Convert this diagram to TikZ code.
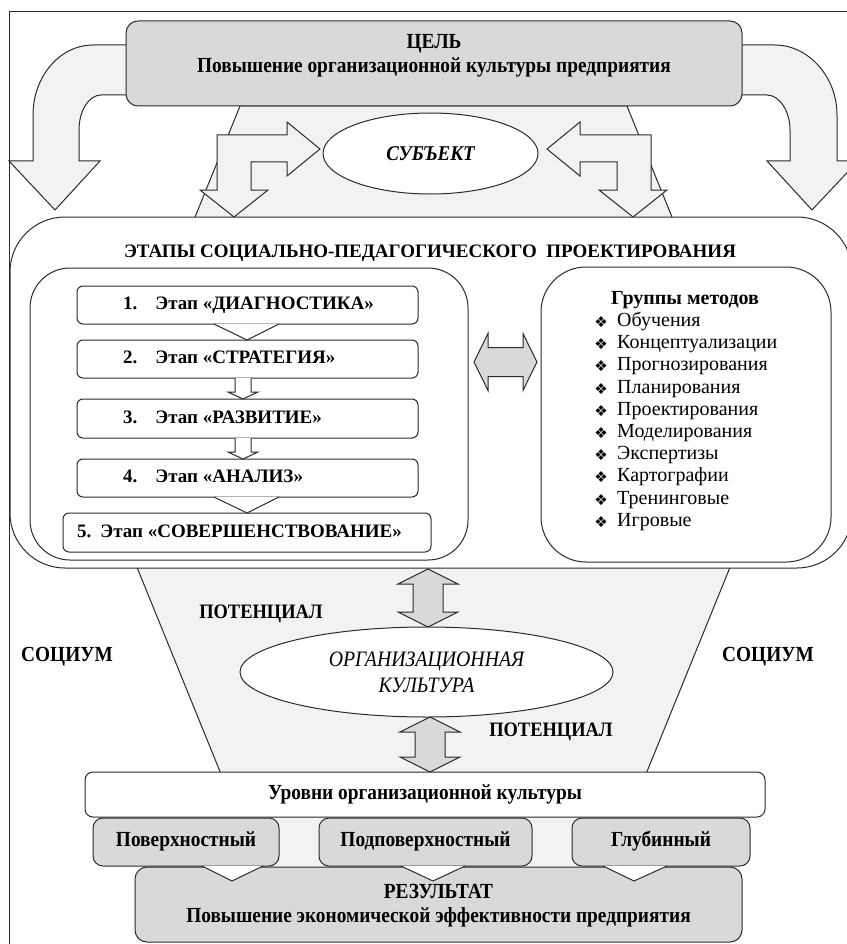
\documentclass[tikz,border=0pt]{standalone}
\usepackage{fontspec}
\setmainfont{Liberation Serif}
\newfontfamily\condfont[FakeStretch=0.9]{Liberation Serif}
\newfontfamily\symfont{DejaVu Sans}
\usetikzlibrary{shapes.geometric}
\definecolor{dgray}{HTML}{D9D9D9}
\definecolor{lgray}{HTML}{F2F2F2}
\definecolor{lineg}{HTML}{2B2B2B}
\tikzset{
  ln/.style={draw=lineg, line width=1pt, line join=miter},
  rbox/.style={ln, rectangle, inner sep=0pt, anchor=center},
  txt/.style={inner sep=0pt, font=\fontsize{19}{21}\selectfont\bfseries, text height=13pt, text depth=4pt},
  ctxt/.style={inner sep=0pt, font=\fontsize{21.5}{24}\selectfont\condfont\bfseries, text height=14pt, text depth=5pt},
  mtxt/.style={inner sep=0pt, font=\fontsize{20}{22}\selectfont, anchor=west, text height=13pt, text depth=4pt},
  bul/.style={inner sep=0pt, font=\fontsize{15}{16}\selectfont\symfont},
}
\begin{document}
\begin{tikzpicture}[x=1pt,y=-1pt]
\useasboundingbox (0,0) rectangle (846,944);
% frame
\draw[ln] (9,960) -- (9,12) -- (860,12);
% hourglass background
\filldraw[ln, fill=lgray] (240,106) -- (627,106) -- (772,464) -- (646,774) -- (221,774) -- (95,464) -- cycle;
% curved arrows
\filldraw[ln, fill=lgray] (130,45) -- (93,45) .. controls (59.9,45) and (33,76.4) .. (33,115) -- (33,161) -- (9,161) -- (55,210) -- (100,161) -- (79,161) -- (79,130) .. controls (79,110.7) and (88.9,95) .. (101,95) -- (130,95);
\filldraw[ln, fill=lgray] (738,45) -- (775,45) .. controls (808.1,45) and (837,76.4) .. (837,115) -- (837,161) -- (858,161) -- (812,210) -- (767,161) -- (790,161) -- (790,130) .. controls (790,110.7) and (779.1,95) .. (767,95) -- (738,95);
% goal box
\node[rbox, fill=dgray, rounded corners=12pt, minimum width=616pt, minimum height=85pt] (goal) at (434,63.5) {};
\node[ctxt] (goalT1) at (434,44) {ЦЕЛЬ};
\node[ctxt] (goalT2) at (434,68) {Повышение организационной культуры предприятия};
% bent arrows
\filldraw[ln, fill=lgray] (320,149) -- (287,122) -- (287,135) -- (217,135) -- (217,190) -- (200,190) -- (234,217) -- (268,190) -- (251,190) -- (251,162) -- (287,162) -- (287,176) -- cycle;
\filldraw[ln, fill=lgray] (547,149) -- (580,122) -- (580,135) -- (651,135) -- (651,190) -- (667,190) -- (633,217) -- (599,190) -- (617,190) -- (617,162) -- (580,162) -- (580,176) -- cycle;
% subject
\node[ln, ellipse, fill=white, minimum width=215pt, minimum height=81pt, inner sep=0pt] (subj) at (430.5,153.5) {};
\node[inner sep=0pt, font=\fontsize{21}{24}\selectfont\condfont\bfseries\itshape] (subjT) at (subj.center) {СУБЪЕКТ};
% stages box
\node[rbox, fill=white, rounded corners=55pt, minimum width=842pt, minimum height=351pt] (stages) at (431,392.5) {};
\node[txt] (stagesT) at (430,253) {ЭТАПЫ СОЦИАЛЬНО-ПЕДАГОГИЧЕСКОГО\ \ ПРОЕКТИРОВАНИЯ};
\node[rbox, fill=white, rounded corners=40pt, minimum width=438pt, minimum height=292pt] (leftbox) at (249,414) {};
% stage boxes
\node[rbox, fill=white, rounded corners=6pt, minimum width=341pt, minimum height=38pt] (s1) at (247.5,305) {};
\node[rbox, fill=white, rounded corners=6pt, minimum width=341pt, minimum height=38pt] (s2) at (247.5,359) {};
\node[rbox, fill=white, rounded corners=6pt, minimum width=341pt, minimum height=39pt] (s3) at (247.5,418.5) {};
\node[rbox, fill=white, rounded corners=6pt, minimum width=341pt, minimum height=38pt] (s4) at (247.5,478) {};
\node[rbox, fill=white, rounded corners=6pt, minimum width=368pt, minimum height=39pt] (s5) at (247,532.5) {};
\node[txt, anchor=west] (s1T) at (123,305) {1.\hspace{18pt}Этап «ДИАГНОСТИКА»};
\node[txt, anchor=west] (s2T) at (123,359) {2.\hspace{18pt}Этап «СТРАТЕГИЯ»};
\node[txt, anchor=west] (s3T) at (123,418.5) {3.\hspace{18pt}Этап «РАЗВИТИЕ»};
\node[txt, anchor=west] (s4T) at (123,478) {4.\hspace{18pt}Этап «АНАЛИЗ»};
\node[txt, anchor=west] (s5T) at (77,532.5) {5.\hspace{9pt}Этап «СОВЕРШЕНСТВОВАНИЕ»};
% connectors between stages
\filldraw[ln, fill=white] (214,324) -- (247,340) -- (279,324);
\filldraw[ln, fill=white] (235,378) -- (235,392) -- (228,392) -- (243,399) -- (258,392) -- (251,392) -- (251,378);
\filldraw[ln, fill=white] (235,438) -- (235,452) -- (228,452) -- (243,459) -- (258,452) -- (251,452) -- (251,438);
\filldraw[ln, fill=white] (214,497) -- (247,513) -- (279,497);
% horizontal double arrow
\filldraw[ln, fill=dgray] (474,362) -- (488,333.5) -- (488,347.5) -- (523,347.5) -- (523,333.5) -- (537,362) -- (523,390.5) -- (523,376.5) -- (488,376.5) -- (488,390.5) -- cycle;
% methods
\node[rbox, fill=white, rounded corners=45pt, minimum width=290pt, minimum height=295pt] (methods) at (686,414.5) {};
\node[txt, font=\fontsize{20}{22}\selectfont\bfseries] (methT) at (685,300) {Группы методов};
\foreach \t [count=\i from 0] in {Обучения,Концептуализации,Прогнозирования,Планирования,Проектирования,Моделирования,Экспертизы,Картографии,Тренинговые,Игровые}{
  \node[bul] (b\i) at (601,{322+22.2*\i}) {❖};
  \node[mtxt] (m\i) at (617,{322+22.2*\i}) {\t};
}
% vertical double arrows
\filldraw[ln, fill=dgray] (428,569) -- (458,584) -- (443,584) -- (443,612) -- (458,612) -- (428,627) -- (398,612) -- (413,612) -- (413,584) -- (398,584) -- cycle;
\filldraw[ln, fill=dgray] (430,717) -- (460,732) -- (445,732) -- (445,757) -- (460,757) -- (430,772) -- (400,757) -- (415,757) -- (415,732) -- (400,732) -- cycle;
% organisational culture
\node[ln, ellipse, fill=white, minimum width=373pt, minimum height=90pt, inner sep=0pt] (org) at (426.5,672) {};
\node[inner sep=0pt, font=\fontsize{22}{26}\selectfont\condfont\itshape, align=center] (orgT) at (org.center) {ОРГАНИЗАЦИОННАЯ\\КУЛЬТУРА};
\node[ctxt, font=\fontsize{20.5}{24}\selectfont\condfont\bfseries] (pot1) at (261,614) {ПОТЕНЦИАЛ};
\node[ctxt, font=\fontsize{20.5}{24}\selectfont\condfont\bfseries] (pot2) at (551,732) {ПОТЕНЦИАЛ};
\node[ctxt] (soc1) at (67,657) {СОЦИУМ};
\node[ctxt] (soc2) at (768,657) {СОЦИУМ};
% levels
\fill[lgray] (270,816) rectangle (580,869);
\node[rbox, fill=white, rounded corners=8pt, minimum width=680pt, minimum height=45pt] (levels) at (425,794.5) {};
\node[ctxt] (levelsT) at (levels.center) {Уровни организационной культуры};
\node[rbox, fill=dgray, rounded corners=12pt, minimum width=607pt, minimum height=75pt] (result) at (438.5,904.5) {};
\node[rbox, fill=dgray, rounded corners=10pt, minimum width=186pt, minimum height=48pt] (lv1) at (186,842) {};
\node[rbox, fill=dgray, rounded corners=10pt, minimum width=213pt, minimum height=48pt] (lv2) at (425.5,842) {};
\node[rbox, fill=dgray, rounded corners=10pt, minimum width=178pt, minimum height=48pt] (lv3) at (661,842) {};
\node[ctxt] (lv1T) at (lv1.center) {Поверхностный};
\node[ctxt] (lv2T) at (lv2.center) {Подповерхностный};
\node[ctxt] (lv3T) at (lv3.center) {Глубинный};
\filldraw[ln, fill=white] (202,866) -- (232,881) -- (263,866);
\filldraw[ln, fill=white] (401,866) -- (433,881) -- (465,866);
\filldraw[ln, fill=white] (603,866) -- (634,881) -- (667,866);
\node[ctxt] (resT1) at (438.5,894) {РЕЗУЛЬТАТ};
\node[ctxt] (resT2) at (438.5,918) {Повышение экономической эффективности предприятия};
\end{tikzpicture}
\end{document}
